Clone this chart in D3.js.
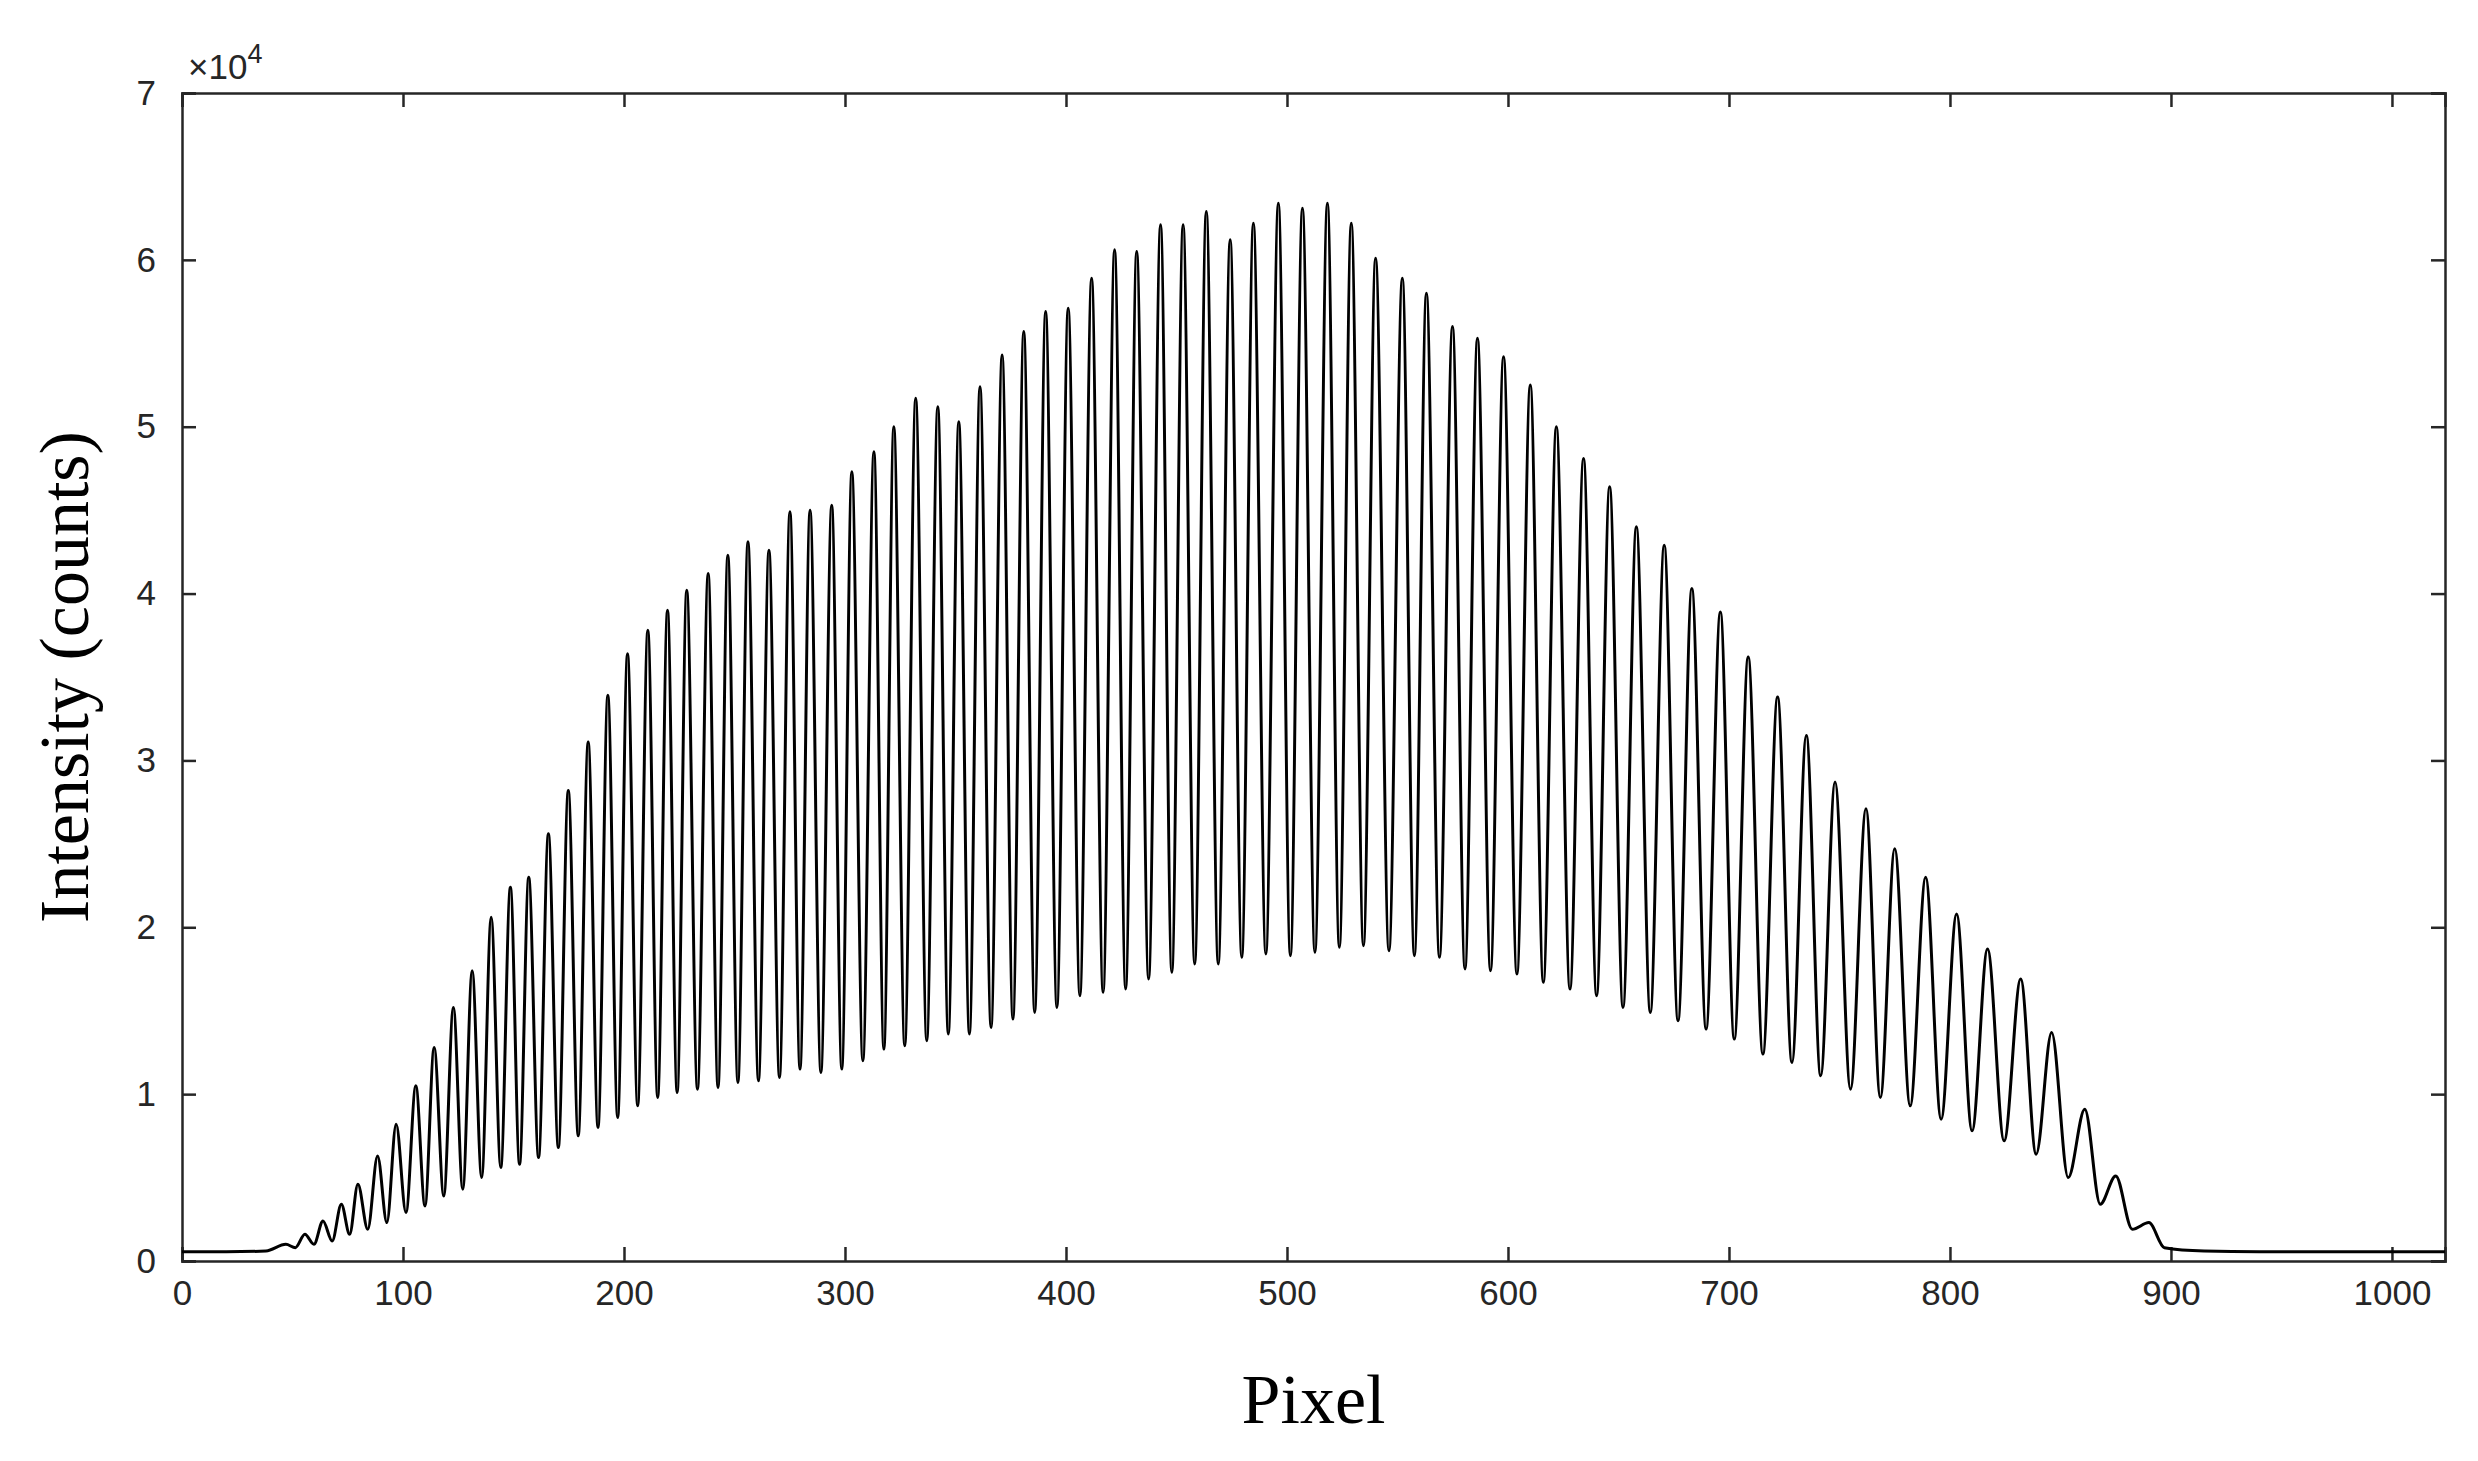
<!DOCTYPE html>
<html>
<head>
<meta charset="utf-8">
<script src="https://cdn.jsdelivr.net/npm/d3@7"></script>
<style>
  body { margin: 0; background: #fff; }
</style>
</head>
<body>
<div id="chart"></div>
<script>
// peak positions (pixel) and heights (x1e4 counts)
const peakX = [47, 55.6, 63.8, 72.1, 79.6, 88.5, 96.9, 105.8, 114.1, 122.8, 131.3, 139.9, 148.6, 156.9,
  165.8, 174.8, 183.8, 192.7, 201.6, 210.8, 219.7, 228.4,
  238.1, 247, 256.1, 265.6, 275.1, 284.2, 294, 303.1, 313.1, 322.1, 332, 342, 351.5, 361.1, 371.1,
  380.9, 390.8, 401, 411.6, 422, 432, 442.8, 453, 463.5, 474.3,
  484.8, 496.1, 507, 518.3, 529.1, 540.1, 552.2, 563.1, 574.9, 586.2, 598, 610.1, 621.9, 634.2,
  646, 658.1, 670.7, 683.2, 696.1, 708.7, 722,
  735, 748, 762, 775, 789, 803, 817, 832, 846, 861, 875, 890];
const peakY = [0.10, 0.16, 0.24, 0.34, 0.46, 0.63, 0.82, 1.05, 1.28, 1.52, 1.74, 2.06, 2.24, 2.30,
  2.56, 2.82, 3.11, 3.39, 3.64, 3.78, 3.90, 4.02,
  4.12, 4.23, 4.31, 4.26, 4.49, 4.50, 4.53, 4.73, 4.85, 5.00, 5.17, 5.12, 5.03, 5.24, 5.43,
  5.57, 5.69, 5.71, 5.89, 6.06, 6.05, 6.21, 6.21, 6.29, 6.12,
  6.22, 6.34, 6.31, 6.34, 6.22, 6.01, 5.89, 5.80, 5.60, 5.53, 5.42, 5.25, 5.00, 4.81,
  4.64, 4.40, 4.29, 4.03, 3.89, 3.62, 3.38,
  3.15, 2.87, 2.71, 2.47, 2.30, 2.08, 1.87, 1.69, 1.37, 0.91, 0.51, 0.23];
// minimum after each peak
const valleyY = [0.08, 0.10, 0.12, 0.16, 0.19, 0.23, 0.29, 0.33, 0.39, 0.43, 0.50, 0.56, 0.58, 0.62,
  0.68, 0.75, 0.80, 0.86, 0.93, 0.98, 1.01, 1.03,
  1.04, 1.07, 1.08, 1.10, 1.15, 1.13, 1.15, 1.20, 1.27, 1.29, 1.32, 1.36, 1.36, 1.40, 1.45,
  1.49, 1.52, 1.59, 1.61, 1.63, 1.69, 1.73, 1.78, 1.78, 1.82,
  1.84, 1.83, 1.85, 1.88, 1.89, 1.86, 1.83, 1.82, 1.75, 1.74, 1.72, 1.67, 1.63, 1.59,
  1.52, 1.49, 1.44, 1.39, 1.33, 1.24, 1.19,
  1.11, 1.03, 0.98, 0.93, 0.85, 0.78, 0.72, 0.64, 0.50, 0.34, 0.19, 0.08];
// flat background before and after the fringes
const headX = [0, 20, 38], headY = [0.055, 0.055, 0.06];
const tailX = [915, 940, 1000, 1024], tailY = [0.06, 0.055, 0.055, 0.055];
const xTicks = [0, 100, 200, 300, 400, 500, 600, 700, 800, 900, 1000];
const yTicks = [0, 1, 2, 3, 4, 5, 6, 7];

let points = headX.map((x, i) => [x, headY[i]]);
peakX.forEach((x, i) => {
  points.push([x, peakY[i]]);
  const next = i + 1 < peakX.length ? peakX[i + 1] : 904;
  points.push([(x + next) / 2, valleyY[i]]);
});
tailX.forEach((x, i) => points.push([x, tailY[i]]));

const width = 2478, height = 1461,
      margin = ({ top: 93, right: 33, bottom: 200, left: 182 });

const svg = d3.select("#chart").append("svg")
  .attr("width", width).attr("height", height)
  .style("font-family", "'Liberation Sans', Arial, sans-serif");

const x = d3.scaleLinear().domain([0, 1024]).range([margin.left, width - margin.right]);
const y = d3.scaleLinear().domain([0, 7]).range([height - margin.bottom, margin.top]);

const tl = 14;
svg.append("g").attr("transform", `translate(0,${y(0)})`)
  .call(d3.axisBottom(x).tickValues(xTicks).tickSize(-tl).tickPadding(16).tickFormat(d3.format("d")))
  .call(g => g.selectAll("text").attr("font-size", 35).attr("dy", "0.8em"));
svg.append("g").attr("transform", `translate(0,${y(7)})`)
  .call(d3.axisTop(x).tickValues(xTicks).tickSize(-tl).tickFormat(""));
svg.append("g").attr("transform", `translate(${x(0)},0)`)
  .call(d3.axisLeft(y).tickValues(yTicks).tickSize(-tl).tickPadding(26).tickFormat(d3.format("d")))
  .call(g => g.selectAll("text").attr("font-size", 35));
svg.append("g").attr("transform", `translate(${x(1024)},0)`)
  .call(d3.axisRight(y).tickValues(yTicks).tickSize(-tl).tickFormat(""));
svg.selectAll(".domain, .tick line").attr("stroke", "#262626").attr("stroke-width", 2.5);
svg.selectAll(".tick text").attr("fill", "#262626");

svg.append("path")
  .datum(points)
  .attr("fill", "none")
  .attr("stroke", "#000")
  .attr("stroke-width", 3)
  .attr("stroke-linejoin", "round")
  .attr("d", d3.line().x(d => x(d[0])).y(d => y(d[1])).curve(d3.curveMonotoneX));

const mult = svg.append("text").attr("x", x(0) + 6).attr("y", y(7) - 14)
  .attr("font-size", 35).attr("fill", "#262626").text("×10");
mult.append("tspan").attr("font-size", 27).attr("dy", -16).text("4");

svg.append("text")
  .attr("x", (x(0) + x(1024)) / 2).attr("y", height - 38)
  .attr("text-anchor", "middle").attr("font-size", 70)
  .attr("font-family", "'Liberation Serif', 'Times New Roman', serif")
  .text("Pixel");
svg.append("text")
  .attr("transform", `translate(88,${(y(0) + y(7)) / 2}) rotate(-90)`)
  .attr("text-anchor", "middle").attr("font-size", 70)
  .attr("font-family", "'Liberation Serif', 'Times New Roman', serif")
  .text("Intensity (counts)");
</script>
</body>
</html>
